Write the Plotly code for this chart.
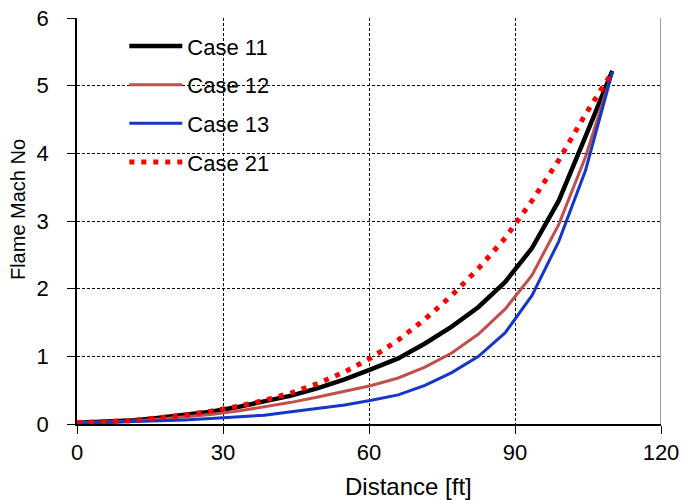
import plotly.graph_objects as go

distance = [0, 5.5, 11, 16.5, 22, 27.5, 33, 38.5, 44, 49.5, 55, 60.5, 66, 71.5, 77, 82.5, 88, 93.5, 99, 104.5, 110]
case11 = [0.02, 0.03, 0.05, 0.09, 0.13, 0.18, 0.25, 0.33, 0.42, 0.53, 0.66, 0.81, 0.97, 1.19, 1.44, 1.73, 2.10, 2.60, 3.30, 4.25, 5.22]
case12 = [0.02, 0.03, 0.04, 0.07, 0.10, 0.14, 0.19, 0.25, 0.32, 0.40, 0.48, 0.57, 0.68, 0.84, 1.05, 1.33, 1.70, 2.20, 2.95, 3.95, 5.20]
case13 = [0.01, 0.02, 0.03, 0.04, 0.06, 0.08, 0.10, 0.13, 0.18, 0.23, 0.28, 0.35, 0.43, 0.57, 0.76, 1.00, 1.35, 1.90, 2.70, 3.75, 5.20]
case21 = [0.02, 0.03, 0.05, 0.09, 0.13, 0.19, 0.26, 0.35, 0.46, 0.60, 0.77, 0.98, 1.24, 1.55, 1.90, 2.30, 2.75, 3.30, 3.90, 4.58, 5.20]

names = ["Case 11", "Case 12", "Case 13", "Case 21"]
x_ticks = [0, 30, 60, 90, 120]
y_ticks = [0, 1, 2, 3, 4, 5, 6]

FONT = "Liberation Sans, Arial, sans-serif"

fig = go.Figure()
styles = [
    dict(color="#000000", width=4.5),
    dict(color="#C0504D", width=3),
    dict(color="#1536C8", width=3),
    dict(color="#FF0000", width=5, dash="5px,7px"),
]
for name, ys, st in zip(names, [case11, case12, case13, case21], styles):
    fig.add_trace(go.Scatter(x=distance, y=ys, mode="lines", name=name,
                             line=st, legendgroup=name))

fig.add_shape(type="line", x0=120, x1=120, y0=0, y1=6, xref="x", yref="y",
              line=dict(color="#808080", width=1.5), layer="above")

fig.update_layout(
    width=681, height=500,
    margin=dict(l=77, r=20, t=18, b=76, autoexpand=False),
    paper_bgcolor="white", plot_bgcolor="white",
    font=dict(family=FONT, size=22, color="#000000"),
    showlegend=True,
    legend=dict(x=0.081, y=0.982, xanchor="left", yanchor="top",
                bgcolor="rgba(0,0,0,0)", traceorder="grouped",
                tracegroupgap=7, itemwidth=53,
                font=dict(family=FONT, size=22)),
    xaxis=dict(range=[0, 120], tickvals=x_ticks, ticks="outside", ticklen=8,
               tickcolor="#000000", showline=True, linecolor="#000000", linewidth=1.5,
               showgrid=True, gridcolor="#000000", gridwidth=1, griddash="3px,2px",
               zeroline=False, ticklabelstandoff=0, automargin=False),
    yaxis=dict(range=[0, 6], tickvals=y_ticks, ticks="outside", ticklen=8,
               tickcolor="#000000", showline=True, linecolor="#000000", linewidth=1.5,
               showgrid=True, gridcolor="#000000", gridwidth=1, griddash="3px,2px",
               zeroline=False, ticklabelstandoff=14, automargin=False),
    annotations=[
        dict(text="Distance [ft]", xref="paper", yref="paper", x=0.567, y=-0.155,
             xanchor="center", yanchor="middle", showarrow=False,
             font=dict(family=FONT, size=24)),
        dict(text="Flame Mach No", xref="paper", yref="paper", x=-0.101, y=0.527,
             xanchor="center", yanchor="middle", showarrow=False, textangle=-90,
             font=dict(family=FONT, size=20)),
    ],
)

fig.write_html("out.html")
